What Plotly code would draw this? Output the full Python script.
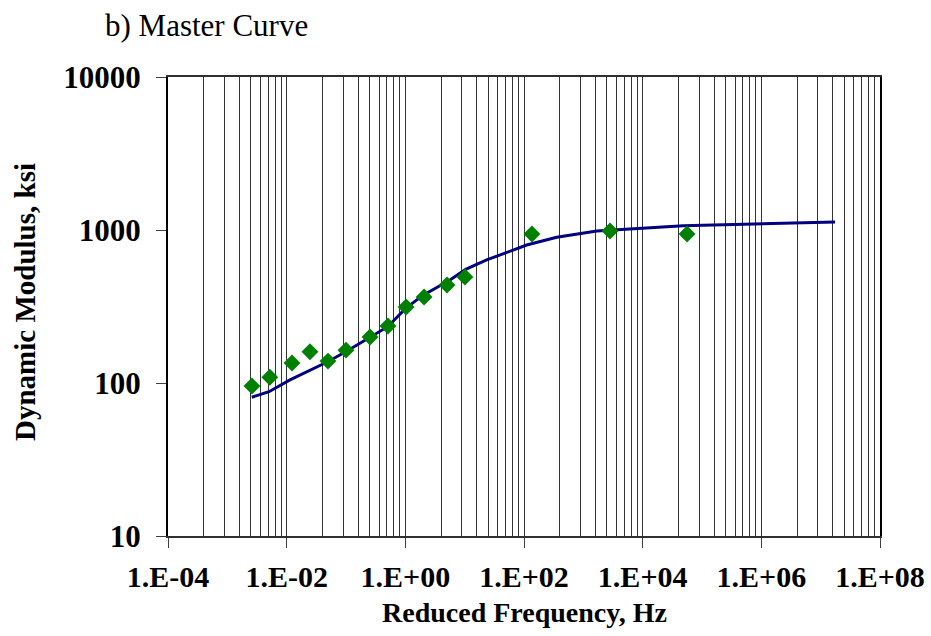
import plotly.graph_objects as go

# Measured data (green diamonds)
meas_freq = [0.0026, 0.0052, 0.0123, 0.0247, 0.0497, 0.1, 0.254, 0.51, 1.03, 2.07, 5.04, 10.1, 136, 2818, 56000]
meas_mod = [95.5, 109, 135, 160, 139, 164, 200, 236, 314, 365, 437, 493, 942, 985, 942]

# Fitted master curve
fit_freq = [0.00258, 0.00504, 0.01138, 0.0247, 0.0491, 0.0989, 0.251, 0.505, 1.01, 2.0, 5.66, 10.4, 23.5, 111, 356, 1683, 48400, 1.08e6, 1.75e7]
fit_mod = [80.7, 87.7, 104.7, 120.3, 137.7, 160.2, 197.7, 233.4, 307.6, 375, 471, 553, 637, 798, 896, 985, 1067, 1100, 1128]

x_tickvals = [1e-4, 1e-2, 1e0, 1e2, 1e4, 1e6, 1e8]
x_ticktext = ["1.E-04", "1.E-02", "1.E+00", "1.E+02", "1.E+04", "1.E+06", "1.E+08"]
y_tickvals = [10, 100, 1000, 10000]
y_ticktext = ["10", "100", "1000", "10000"]

# Excel log-base-100 style minor gridlines
minor_vals = []
for n in range(-2, 4):
    for k in range(2, 10):
        minor_vals.append((10.0 ** (2 * n)) * k * k)

FONT = "Liberation Serif"
L, R, T, B = 168, 51, 77, 100
pw = 931 - L - R
ph = 636 - T - B

fig = go.Figure()
fig.add_trace(go.Scatter(x=fit_freq, y=fit_mod, mode="lines",
                         line=dict(color="#000080", width=3), showlegend=False))
fig.add_trace(go.Scatter(x=meas_freq, y=meas_mod, mode="markers",
                         marker=dict(symbol="diamond", size=13, color="#008000"),
                         showlegend=False))

fig.update_layout(
    width=931, height=636,
    margin=dict(l=L, r=R, t=T, b=B, autoexpand=False),
    paper_bgcolor="white", plot_bgcolor="white",
    font=dict(family=FONT, color="black"),
    xaxis=dict(
        type="log", range=[-4, 8], automargin=False,
        tickmode="array", tickvals=x_tickvals, ticktext=x_ticktext,
        tickfont=dict(family=FONT, size=30, weight="bold", color="black"),
        ticks="outside", ticklen=10, tickcolor="#404040", ticklabelstandoff=3,
        showgrid=True, gridcolor="#333333", gridwidth=1,
        minor=dict(tickmode="array", tickvals=minor_vals, showgrid=True,
                   gridcolor="#333333", gridwidth=1, ticks=""),
        showline=True, linecolor="#303030", linewidth=2, mirror=True,
        zeroline=False,
    ),
    yaxis=dict(
        type="log", range=[1, 4], automargin=False,
        tickmode="array", tickvals=y_tickvals, ticktext=y_ticktext,
        tickfont=dict(family=FONT, size=31, weight="bold", color="black"),
        ticks="outside", ticklen=10, tickcolor="#404040", ticklabelstandoff=9,
        showgrid=False,
        showline=True, linecolor="black", linewidth=2, mirror=True,
        zeroline=False,
    ),
    annotations=[
        dict(text="b) Master Curve", x=(103 - L) / pw, y=(636 - B - 25) / ph,
             xref="paper", yref="paper", showarrow=False,
             font=dict(family=FONT, size=31, color="black"),
             xanchor="left", yanchor="middle"),
        dict(text="Reduced Frequency, Hz", x=(524 - L) / pw, y=(636 - B - 612) / ph,
             xref="paper", yref="paper", showarrow=False,
             font=dict(family=FONT, size=28, weight="bold", color="black"),
             xanchor="center", yanchor="middle"),
        dict(text="Dynamic Modulus, ksi", x=(25 - L) / pw, y=(636 - B - 302) / ph,
             xref="paper", yref="paper", showarrow=False, textangle=-90,
             font=dict(family=FONT, size=29, weight="bold", color="black"),
             xanchor="center", yanchor="middle"),
    ],
)

fig.write_html("out.html")
